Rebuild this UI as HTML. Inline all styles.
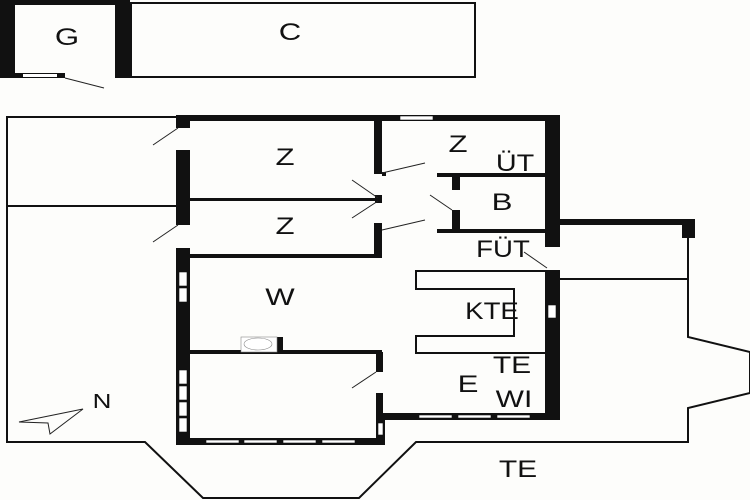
<!DOCTYPE html>
<html><head><meta charset="utf-8"><style>
html,body{margin:0;padding:0;background:#fff;}
svg{display:block}
text{font-family:"Liberation Sans",sans-serif;fill:#111;text-anchor:middle;}
</style></head><body>
<svg width="750" height="500" viewBox="0 0 750 500" xmlns="http://www.w3.org/2000/svg">
<rect width="750" height="500" fill="#fdfdfb"/>
<g fill="#111" stroke="none">
<rect x="0" y="0" width="15" height="78"/>
<rect x="115" y="0" width="15" height="78"/>
<rect x="0" y="0" width="130" height="5"/>
<rect x="0" y="73" width="65" height="5"/>
<rect x="115" y="73" width="15" height="5"/>
</g>
<rect x="23" y="74" width="34" height="3" fill="#fff"/>
<line x1="65" y1="78" x2="104" y2="88" stroke="#222" stroke-width="1"/>
<rect x="131" y="3" width="344" height="74" fill="none" stroke="#111" stroke-width="2"/>

<g fill="none" stroke="#111" stroke-width="2">
<polyline points="178,117 7,117 7,442 145,442 203,498 359,498 416,442 688,442 688,408 750,393 750,352 688,337 688,230"/>
<line x1="7" y1="206" x2="178" y2="206"/>
<line x1="560" y1="279" x2="688" y2="279"/>
</g>

<g fill="#111">
<rect x="176" y="115" width="384" height="6"/>
<rect x="176" y="115" width="14" height="13"/>
<rect x="176" y="150" width="14" height="75"/>
<rect x="176" y="248" width="14" height="197"/>
<rect x="545" y="115" width="15" height="132"/>
<rect x="545" y="270" width="15" height="150"/>
<rect x="560" y="219" width="135" height="6"/>
<rect x="682" y="219" width="13" height="19"/>
<rect x="190" y="198" width="188" height="3"/>
<rect x="375" y="195" width="7" height="8"/>
<rect x="374" y="121" width="8" height="53"/>
<rect x="382" y="172" width="4" height="4"/>
<rect x="374" y="223" width="8" height="33"/>
<rect x="190" y="254" width="192" height="4"/>
<rect x="437" y="173" width="108" height="4"/>
<rect x="437" y="229" width="108" height="4"/>
<rect x="452" y="173" width="8" height="17"/>
<rect x="452" y="210" width="8" height="22"/>
<rect x="190" y="350" width="192" height="4"/>
<rect x="277" y="337" width="6" height="15"/>
<rect x="376" y="352" width="7" height="20"/>
<rect x="376" y="393" width="7" height="25"/>
<rect x="376" y="413" width="184" height="7"/>
<rect x="376" y="415" width="9" height="30"/>
<rect x="176" y="438" width="209" height="7"/>
</g>
<g fill="#fff" stroke="#111" stroke-width="0.6">
<rect x="400" y="116" width="33" height="4"/>
<rect x="179" y="272" width="8" height="14"/>
<rect x="179" y="288" width="8" height="14"/>
<rect x="179" y="370" width="8" height="14"/>
<rect x="179" y="386" width="8" height="14"/>
<rect x="179" y="402" width="8" height="14"/>
<rect x="179" y="418" width="8" height="14"/>
<rect x="206" y="440" width="33" height="3"/>
<rect x="244" y="440" width="33" height="3"/>
<rect x="283" y="440" width="33" height="3"/>
<rect x="322" y="440" width="33" height="3"/>
<rect x="419" y="415" width="33" height="3"/>
<rect x="458" y="415" width="33" height="3"/>
<rect x="497" y="415" width="33" height="3"/>
<rect x="548" y="305" width="8" height="13"/>
<rect x="378" y="423" width="5" height="12"/>
<rect x="241" y="337" width="36" height="15" stroke="#888"/>
<ellipse cx="258" cy="344" rx="14" ry="6" fill="none" stroke="#888"/>
</g>
<polyline points="546,271 416,271 416,289 514,289 514,336 416,336 416,353 546,353" fill="none" stroke="#111" stroke-width="2"/>
<g stroke="#222" stroke-width="1">
<line x1="153" y1="145" x2="178" y2="128"/>
<line x1="153" y1="242" x2="178" y2="225"/>
<line x1="352" y1="180" x2="378" y2="198"/>
<line x1="352" y1="218" x2="378" y2="201"/>
<line x1="382" y1="173" x2="425" y2="163"/>
<line x1="382" y1="230" x2="425" y2="220"/>
<line x1="430" y1="195" x2="452" y2="210"/>
<line x1="524" y1="252" x2="547" y2="268"/>
<line x1="352" y1="388" x2="376" y2="372"/>
</g>
<polygon points="19,422 83,409 50,434 48,423" fill="none" stroke="#222" stroke-width="1"/>
<g font-size="24">
<text transform="translate(67,45) scale(1.3,1)">G</text>
<text transform="translate(290,40) scale(1.3,1)">C</text>
<text transform="translate(285,165) scale(1.3,1)">Z</text>
<text transform="translate(458,152) scale(1.3,1)">Z</text>
<text transform="translate(515,171) scale(1.2,1)">ÜT</text>
<text transform="translate(502,210) scale(1.3,1)">B</text>
<text transform="translate(285,234) scale(1.3,1)">Z</text>
<text transform="translate(503,257) scale(1.15,1)">FÜT</text>
<text transform="translate(280,305) scale(1.3,1)">W</text>
<text transform="translate(492,319) scale(1.15,1)">KTE</text>
<text transform="translate(512,373) scale(1.25,1)">TE</text>
<text transform="translate(468,392) scale(1.3,1)">E</text>
<text transform="translate(514,407) scale(1.25,1)">WI</text>
<text transform="translate(518,477) scale(1.25,1)">TE</text>
<text transform="translate(102,408) scale(1.3,1)" font-size="20">N</text>
</g>
</svg>
</body></html>
